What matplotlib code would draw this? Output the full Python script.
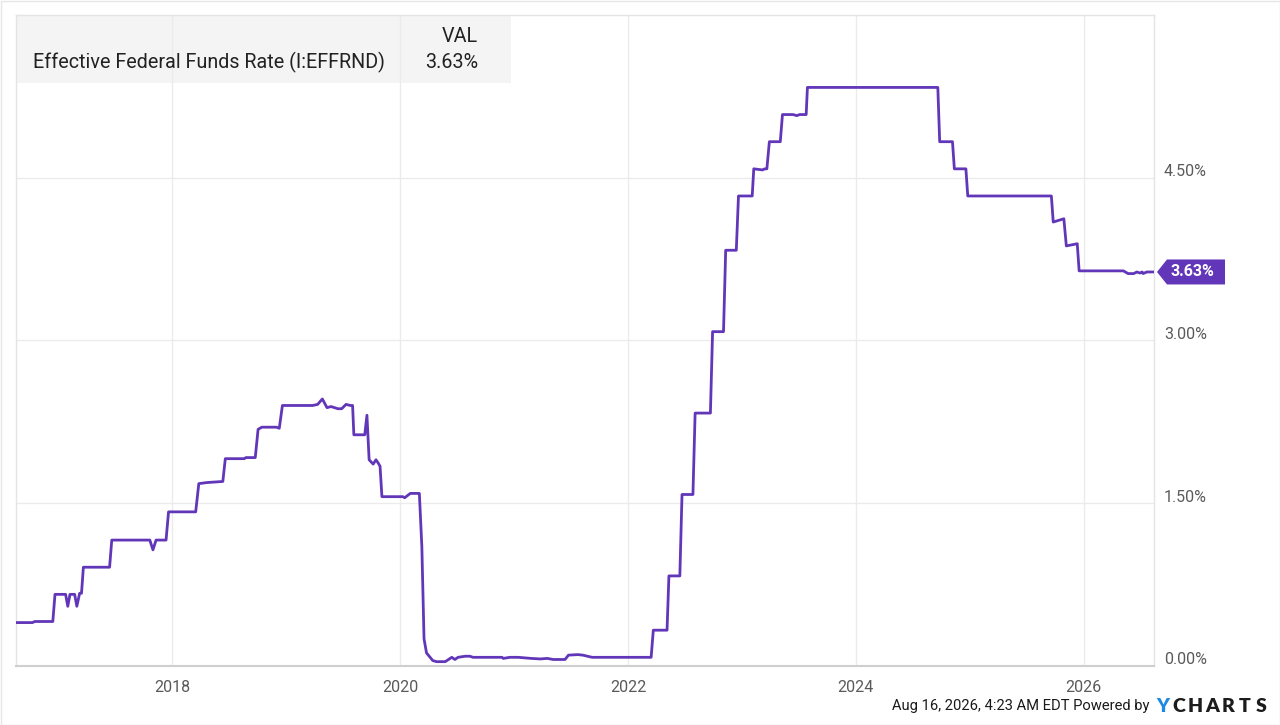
import matplotlib
matplotlib.use("Agg")
import matplotlib.pyplot as plt
import matplotlib.dates as mdates
from matplotlib.patches import Rectangle, Polygon
from matplotlib.transforms import IdentityTransform, offset_copy
import numpy as np
import pandas as pd

plt.rcParams["font.family"] = ["Roboto", "DejaVu Sans"]

# Effective Federal Funds Rate (%)
dates = [
    "2016-08-18", "2016-10-10", "2016-10-17", "2016-12-14", "2016-12-21",
    "2017-01-24", "2017-01-31", "2017-02-07", "2017-02-22", "2017-03-01",
    "2017-03-10", "2017-03-16", "2017-03-22", "2017-06-14", "2017-06-21",
    "2017-10-21", "2017-10-31", "2017-11-10", "2017-12-12", "2017-12-20",
    "2018-03-17", "2018-03-27", "2018-04-22", "2018-06-12", "2018-06-20",
    "2018-08-20", "2018-08-25", "2018-09-24", "2018-10-03", "2018-10-15",
    "2018-12-01", "2018-12-10", "2018-12-20", "2019-03-27", "2019-04-12",
    "2019-04-27", "2019-05-12", "2019-05-25", "2019-06-16", "2019-06-28",
    "2019-07-12", "2019-07-26", "2019-08-02", "2019-08-06", "2019-09-10",
    "2019-09-17", "2019-09-24", "2019-10-07", "2019-10-16", "2019-10-23",
    "2019-10-29", "2019-11-04", "2020-01-10", "2020-01-16", "2020-02-03",
    "2020-03-03", "2020-03-11", "2020-03-18", "2020-03-26", "2020-04-15",
    "2020-04-27", "2020-05-25", "2020-06-15", "2020-06-25", "2020-07-05",
    "2020-07-28", "2020-08-12", "2020-08-22", "2020-11-23", "2020-11-27",
    "2020-12-18", "2021-01-14", "2021-02-24", "2021-03-26", "2021-04-17",
    "2021-05-06", "2021-06-13", "2021-06-24", "2021-07-24", "2021-08-09",
    "2021-09-08", "2022-03-16", "2022-03-23", "2022-05-06", "2022-05-12",
    "2022-06-16", "2022-06-23", "2022-07-28", "2022-08-04", "2022-09-22",
    "2022-09-29", "2022-11-03", "2022-11-10", "2022-12-14", "2022-12-21",
    "2023-02-03", "2023-02-08", "2023-03-08", "2023-03-15", "2023-03-22",
    "2023-03-30", "2023-05-04", "2023-05-11", "2023-06-14", "2023-06-26",
    "2023-07-05", "2023-07-26", "2023-07-30", "2024-09-20", "2024-09-26",
    "2024-11-06", "2024-11-12", "2024-12-19", "2024-12-25", "2025-09-19",
    "2025-09-25", "2025-10-29", "2025-11-06", "2025-12-11", "2025-12-17",
    "2026-05-08", "2026-05-23", "2026-06-10", "2026-06-20", "2026-06-30",
    "2026-07-07", "2026-07-10", "2026-07-22", "2026-08-14",
]
rates = [
    0.40, 0.40, 0.41, 0.41, 0.66,
    0.66, 0.55, 0.66, 0.66, 0.55,
    0.67, 0.67, 0.91, 0.91, 1.16,
    1.16, 1.07, 1.16, 1.16, 1.42,
    1.42, 1.68, 1.69, 1.70, 1.91,
    1.91, 1.92, 1.92, 2.18, 2.20,
    2.20, 2.19, 2.40, 2.40, 2.41,
    2.46, 2.38, 2.39, 2.37, 2.37,
    2.41, 2.40, 2.40, 2.13, 2.13,
    2.31, 1.90, 1.86, 1.90, 1.87,
    1.84, 1.56, 1.56, 1.55, 1.59,
    1.59, 1.10, 0.25, 0.12, 0.05,
    0.04, 0.04, 0.08, 0.06, 0.08,
    0.09, 0.09, 0.08, 0.08, 0.07,
    0.08, 0.08, 0.07, 0.065, 0.07,
    0.06, 0.06, 0.10, 0.105, 0.10,
    0.08, 0.08, 0.33, 0.33, 0.83,
    0.83, 1.58, 1.58, 2.33, 2.33,
    3.08, 3.08, 3.83, 3.83, 4.33,
    4.33, 4.58, 4.57, 4.58, 4.58,
    4.83, 4.83, 5.08, 5.08, 5.07,
    5.08, 5.08, 5.33, 5.33, 4.83,
    4.83, 4.58, 4.58, 4.33, 4.33,
    4.09, 4.12, 3.87, 3.89, 3.64,
    3.64, 3.615, 3.615, 3.63, 3.62,
    3.63, 3.615, 3.63, 3.63,
]
series_name = "Effective Federal Funds Rate (I:EFFRND)"
y_ticks = [0.0, 1.5, 3.0, 4.5]
x_ticks = ["2018-01-01", "2020-01-01", "2022-01-01", "2024-01-01", "2026-01-01"]
stamp = "Aug 16, 2026, 4:23 AM EDT Powered by"

PURPLE = "#6236b8"
W, H = 1280, 725


def fx(x):
    return x / W


def fy(y):
    return 1 - y / H


fig = plt.figure(figsize=(12.8, 7.25), dpi=100)
ax = fig.add_axes([fx(16), fy(666), fx(1154) - fx(16), fy(14.7) - fy(666)])

d = pd.to_datetime(dates)
ax.plot(d, rates, color=PURPLE, lw=2.0, solid_joinstyle="round", zorder=3)

ax.set_xlim(pd.Timestamp("2016-08-18"), pd.Timestamp("2026-08-14"))
ax.set_ylim(0, 6.0)

ax.set_xticks(pd.to_datetime(x_ticks))
ax.xaxis.set_major_formatter(mdates.DateFormatter("%Y"))
ax.set_yticks(y_ticks)
ax.set_yticklabels([])
ax.tick_params(axis="both", length=0)
ax.tick_params(axis="x", pad=10, labelsize=11.5, labelcolor="#5a5a5a")
ax.set_axisbelow(True)
ax.grid(True, color="#ebebeb", lw=1)

for side in ["left", "top", "right"]:
    ax.spines[side].set_color("#e4e4e4")
    ax.spines[side].set_linewidth(1)
ax.spines["bottom"].set_color("#cfcfcf")
ax.spines["bottom"].set_linewidth(1.5)

# right-hand value labels, sitting just above their gridlines
lab_tr = offset_copy(ax.get_yaxis_transform(), fig=fig, x=0, y=6, units="dots")
for v in y_ticks:
    ax.text((1164 - 16) / (1154 - 16), v, f"{v:.2f}%", transform=lab_tr,
            ha="left", va="center", fontsize=11.5, color="#5a5a5a", clip_on=False)

# legend table in the top-left corner
ax.add_patch(Rectangle((16, H - 83), 511 - 16, 83 - 15, transform=IdentityTransform(),
                       facecolor="#f4f4f4", edgecolor="none", zorder=0.2, clip_on=False))
fig.text(fx(478), fy(36), "VAL", ha="right", va="center", fontsize=14.2, color="#222222")
fig.text(fx(478), fy(62), f"{rates[-1]:.2f}%", ha="right", va="center", fontsize=14.2,
         color="#222222")
fig.text(fx(33), fy(62), series_name, ha="left", va="center", fontsize=14.2, color="#222222")

# last value tag
fig.canvas.draw()
_, ty = ax.transData.transform((mdates.date2num(d[-1]), rates[-1]))
tag = [(1157, ty), (1167, ty + 12.5), (1225, ty + 12.5), (1225, ty - 12.5), (1167, ty - 12.5)]
fig.add_artist(Polygon(tag, closed=True, transform=IdentityTransform(),
                       facecolor=PURPLE, edgecolor="none"))
fig.text(fx(1192), ty / H, f"{rates[-1]:.2f}%", ha="center", va="center",
         fontsize=11.5, fontweight="bold", color="white")

# footer
fig.text(fx(1149), fy(706), stamp, ha="right", va="center", fontsize=10.6, color="#1a1a1a")
for i, ch in enumerate("YCHARTS"):
    fig.text(fx(1163 + i * 16.3), fy(706), ch, ha="center", va="center", fontsize=14,
             family=["Lato", "DejaVu Sans"], fontweight="heavy",
             color="#1e88e5" if i == 0 else "#1c1c1c")

fig.add_artist(Rectangle((0.5, 0.5), W - 1, H - 1, transform=IdentityTransform(),
                         facecolor="none", edgecolor="#e6e6e6", lw=1))

fig.savefig("out.png", dpi=100)
